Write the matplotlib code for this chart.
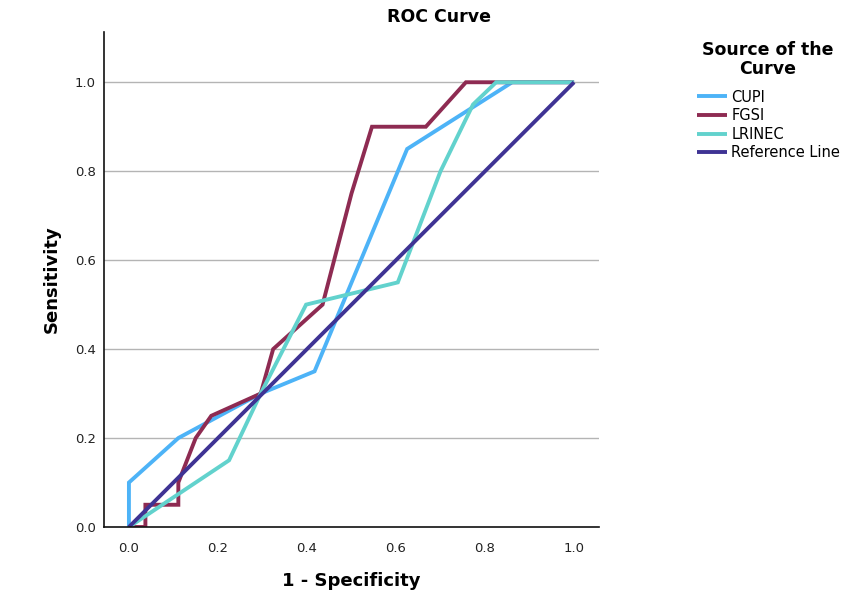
import matplotlib
matplotlib.use("Agg")
import matplotlib.pyplot as plt

# Data
cupi_x = [0.0, 0.0, 0.111, 0.296, 0.417, 0.625, 0.861, 1.0]
cupi_y = [0.0, 0.10, 0.20, 0.30, 0.35, 0.85, 1.0, 1.0]

fgsi_x = [0.0, 0.037, 0.037, 0.111, 0.111, 0.150, 0.185, 0.296, 0.324, 0.435, 0.500, 0.546, 0.667, 0.757, 1.0]
fgsi_y = [0.0, 0.0, 0.05, 0.05, 0.10, 0.20, 0.25, 0.30, 0.40, 0.50, 0.75, 0.90, 0.90, 1.0, 1.0]

lrinec_x = [0.0, 0.225, 0.296, 0.398, 0.604, 0.700, 0.773, 0.825, 1.0]
lrinec_y = [0.0, 0.15, 0.30, 0.50, 0.55, 0.80, 0.95, 1.0, 1.0]

ref_x = [0.0, 1.0]
ref_y = [0.0, 1.0]

series_names = ["CUPI", "FGSI", "LRINEC", "Reference Line"]
colors = ["#4DB3F7", "#8E2B52", "#62D2CD", "#3F3394"]
tick_vals = [0.0, 0.2, 0.4, 0.6, 0.8, 1.0]
tick_labels = ["0.0", "0.2", "0.4", "0.6", "0.8", "1.0"]

W, H = 866, 595
fig = plt.figure(figsize=(W / 100, H / 100), dpi=100)
ax = fig.add_axes([104 / W, 1 - 527 / H, (599 - 104) / W, (527 - 32) / H])

lw = 2.8
handles = []
for (xs, ys), name, c in zip([(cupi_x, cupi_y), (fgsi_x, fgsi_y), (lrinec_x, lrinec_y), (ref_x, ref_y)],
                              series_names, colors):
    h, = ax.plot(xs, ys, color=c, lw=lw, label=name, solid_joinstyle="miter", solid_capstyle="butt")
    handles.append(h)

ax.set_xlim(-0.056, 1.056)
ax.set_ylim(0.0, 1.113)
ax.set_xticks(tick_vals)
ax.set_xticklabels(tick_labels)
ax.set_yticks(tick_vals)
ax.set_yticklabels(tick_labels)
ax.tick_params(axis="both", length=0, labelsize=9.5, colors="#222222")
ax.tick_params(axis="x", pad=11)
ax.tick_params(axis="y", pad=6)
for t in tick_vals[1:]:
    ax.axhline(t, color="#b4b4b4", lw=1.0, zorder=0)
for s in ["top", "right"]:
    ax.spines[s].set_visible(False)
for s in ["left", "bottom"]:
    ax.spines[s].set_linewidth(1.2)
    ax.spines[s].set_color("#111111")

ax.set_xlabel("1 - Specificity", fontsize=13, fontweight="bold", labelpad=12)
ax.set_ylabel("Sensitivity", fontsize=13, fontweight="bold", labelpad=10)

fig.text(439 / W, 1 - 17 / H, "ROC Curve", ha="center", va="center", fontsize=12.5, fontweight="bold")

fig.text(768 / W, 1 - 59.5 / H, "Source of the\nCurve", ha="center", va="center",
         fontsize=12.5, fontweight="bold", linespacing=1.1)

fig.legend(handles=handles, labels=series_names, loc="upper left",
           bbox_to_anchor=(697 / W, 1 - 89.5 / H), frameon=False, fontsize=10.5,
           borderpad=0, borderaxespad=0, handlelength=2.05, handletextpad=0.3,
           labelspacing=0.25)

fig.savefig("out.png", dpi=100)
